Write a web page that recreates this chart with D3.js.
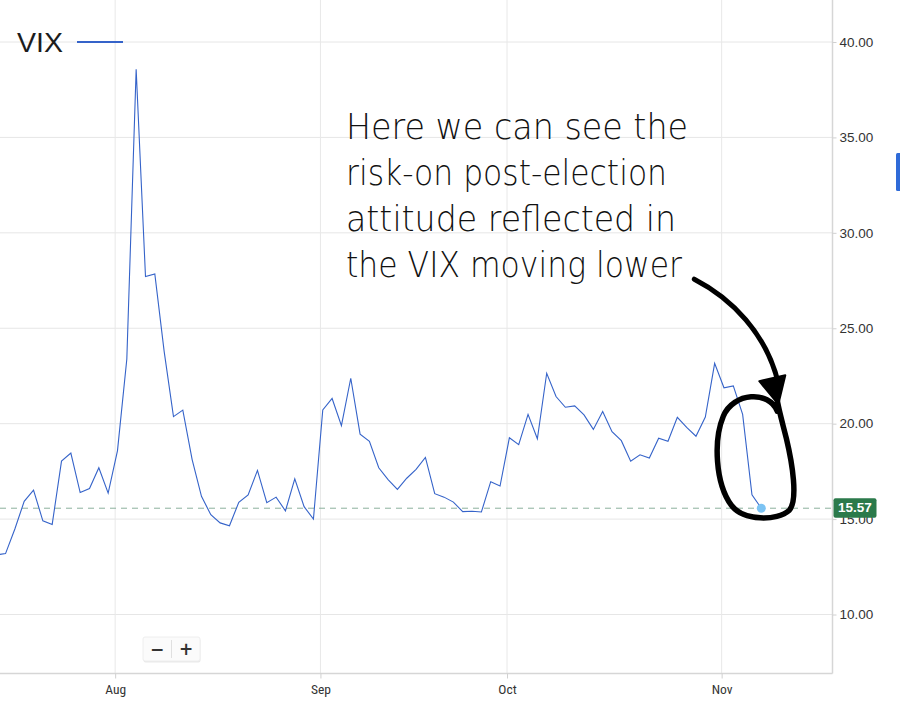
<!DOCTYPE html>
<html>
<head>
<meta charset="utf-8">
<script src="https://cdn.jsdelivr.net/npm/d3@7"></script>
<style>
  html, body { margin: 0; padding: 0; background: #fff; }
  svg { display: block; }
</style>
</head>
<body>
<div id="chart"></div>
<script>
// ---- Data ----
const dates = [
  "2024-07-15","2024-07-16","2024-07-17","2024-07-18","2024-07-19",
  "2024-07-22","2024-07-23","2024-07-24","2024-07-25","2024-07-26",
  "2024-07-29","2024-07-30","2024-07-31",
  "2024-08-01","2024-08-02","2024-08-05","2024-08-06","2024-08-07","2024-08-08","2024-08-09",
  "2024-08-12","2024-08-13","2024-08-14","2024-08-15","2024-08-16",
  "2024-08-19","2024-08-20","2024-08-21","2024-08-22","2024-08-23",
  "2024-08-26","2024-08-27","2024-08-28","2024-08-29","2024-08-30",
  "2024-09-03","2024-09-04","2024-09-05","2024-09-06",
  "2024-09-09","2024-09-10","2024-09-11","2024-09-12","2024-09-13",
  "2024-09-16","2024-09-17","2024-09-18","2024-09-19","2024-09-20",
  "2024-09-23","2024-09-24","2024-09-25","2024-09-26","2024-09-27","2024-09-30",
  "2024-10-01","2024-10-02","2024-10-03","2024-10-04",
  "2024-10-07","2024-10-08","2024-10-09","2024-10-10","2024-10-11",
  "2024-10-14","2024-10-15","2024-10-16","2024-10-17","2024-10-18",
  "2024-10-21","2024-10-22","2024-10-23","2024-10-24","2024-10-25",
  "2024-10-28","2024-10-29","2024-10-30","2024-10-31",
  "2024-11-01","2024-11-04","2024-11-05","2024-11-06","2024-11-07"
];
const vix = [
  13.12,13.19,14.48,15.93,16.52,
  14.91,14.72,18.04,18.46,16.39,
  16.60,17.69,16.36,
  18.59,23.39,38.57,27.71,27.85,23.79,20.37,
  20.71,18.12,16.19,15.23,14.80,
  14.65,15.88,16.27,17.55,15.86,
  16.15,15.43,17.11,15.65,15.00,
  20.72,21.32,19.90,22.38,
  19.45,19.08,17.69,17.07,16.56,
  17.14,17.61,18.23,16.33,16.15,
  15.89,15.39,15.41,15.37,16.96,16.73,
  19.26,18.90,20.49,19.21,
  22.64,21.42,20.86,20.93,20.46,
  19.70,20.64,19.58,19.11,18.03,
  18.37,18.20,19.24,19.08,20.33,
  19.80,19.34,20.35,23.16,
  21.88,21.98,20.49,16.27,15.57
];
const yTicks = [10, 15, 20, 25, 30, 35, 40];
const monthLabels = ["Aug", "Sep", "Oct", "Nov"];
const lastValue = 15.57;
const seriesName = "VIX";
const noteLines = [
  "Here we can see the",
  "risk-on post-election",
  "attitude reflected in",
  "the VIX moving lower"
];

// ---- Layout ----
const W = 900, H = 711;
const plotR = 832, plotB = 673;
const lineColor = "#3563c9";

const svg = d3.select("#chart").append("svg")
  .attr("width", W).attr("height", H)
  .attr("viewBox", `0 0 ${W} ${H}`);

const x = d3.scaleLinear().domain([0, dates.length - 1]).range([-3.8, 761.3]);
const y = d3.scaleLinear().domain([10, 40]).range([614.5, 42]);

// month tick positions: just before first trading day of each month
const monthStarts = monthLabels.map((m, k) => {
  const mm = String(8 + k).padStart(2, "0");
  const idx = dates.findIndex(d => d.slice(5, 7) === mm);
  return idx - 0.25;
});

// Grid
const grid = svg.append("g");
grid.selectAll("line.h").data(yTicks).join("line")
  .attr("x1", 0).attr("x2", plotR)
  .attr("y1", d => y(d)).attr("y2", d => y(d))
  .attr("stroke", "#e6e6e6").attr("stroke-width", 1);
grid.selectAll("line.v").data(monthStarts).join("line")
  .attr("x1", d => x(d)).attr("x2", d => x(d))
  .attr("y1", 0).attr("y2", plotB)
  .attr("stroke", "#e8e8e8").attr("stroke-width", 1);

// Axis frame lines
svg.append("line").attr("x1", plotR + 0.5).attr("x2", plotR + 0.5)
  .attr("y1", 0).attr("y2", plotB + 0.5)
  .attr("stroke", "#d6d6d6").attr("stroke-width", 1.5);
svg.append("line").attr("x1", 0).attr("x2", plotR + 0.5)
  .attr("y1", plotB + 0.5).attr("y2", plotB + 0.5)
  .attr("stroke", "#d6d6d6").attr("stroke-width", 1.5);

// Right axis (D3 axis); the 15.00 label sits under the last-value badge as in the reference
const yAxis = d3.axisRight(y).tickValues(yTicks).tickSize(4).tickPadding(3)
  .tickFormat(d3.format(".2f"));
const yg = svg.append("g").attr("transform", `translate(${plotR + 0.5},0)`).call(yAxis);
yg.select(".domain").remove();
yg.selectAll(".tick line").attr("stroke", "#d0d0d0");
yg.selectAll(".tick text")
  .attr("fill", "#333").attr("font-size", 13.5)
  .attr("font-family", "'Liberation Sans', Arial, Helvetica, sans-serif");

// Bottom axis (D3 axis)
const xAxis = d3.axisBottom(x).tickValues(monthStarts).tickSize(5).tickPadding(6)
  .tickFormat((d, i) => monthLabels[i]);
const xg = svg.append("g").attr("transform", `translate(0,${plotB + 0.5})`).call(xAxis);
xg.select(".domain").remove();
xg.selectAll(".tick line").attr("stroke", "#d0d0d0");
xg.selectAll(".tick text")
  .attr("fill", "#333").attr("font-size", 13.5)
  .attr("font-family", "'Liberation Sans Narrow', 'Roboto Condensed', Roboto, sans-serif");

// Clip
svg.append("clipPath").attr("id", "plotclip")
  .append("rect").attr("x", 0).attr("y", 0).attr("width", plotR).attr("height", plotB);

// Last-value dashed line
svg.append("line")
  .attr("x1", 0).attr("x2", plotR)
  .attr("y1", y(lastValue)).attr("y2", y(lastValue))
  .attr("stroke", "#8bb09c").attr("stroke-width", 1)
  .attr("stroke-dasharray", "6,5");

// Line
const line = d3.line().x((d, i) => x(i)).y(d => y(d));
svg.append("path")
  .datum(vix)
  .attr("clip-path", "url(#plotclip)")
  .attr("d", line)
  .attr("fill", "none")
  .attr("stroke", lineColor)
  .attr("stroke-width", 1.1)
  .attr("stroke-linejoin", "miter");

// Last point dot
const li = vix.length - 1;
svg.append("circle")
  .attr("cx", x(li)).attr("cy", y(vix[li])).attr("r", 4.5)
  .attr("fill", "#7cc3f3");

// Last value badge
const by = y(lastValue);
svg.append("rect")
  .attr("x", plotR + 1.5).attr("y", by - 10).attr("width", 43).attr("height", 19.5)
  .attr("rx", 2).attr("fill", "#2b7a4b");
svg.append("text")
  .attr("x", plotR + 23).attr("y", by + 0.5)
  .attr("text-anchor", "middle").attr("dominant-baseline", "middle")
  .attr("fill", "#fff").attr("font-size", 13.5).attr("font-weight", "bold")
  .attr("font-family", "'Liberation Sans', Arial, sans-serif")
  .text(lastValue.toFixed(2));

// Legend
svg.append("text")
  .attr("x", 17).attr("y", 52)
  .attr("font-size", 28.5).attr("fill", "#1c1c1c")
  .attr("font-family", "'Liberation Sans', Arial, Helvetica, sans-serif")
  .attr("font-weight", 300)
  .text(seriesName);
svg.append("line")
  .attr("x1", 77).attr("x2", 123).attr("y1", 42).attr("y2", 42)
  .attr("stroke", lineColor).attr("stroke-width", 2);

// Zoom buttons
const zb = svg.append("g").attr("transform", "translate(143,637)");
zb.append("rect").attr("x", 0.5).attr("y", 1.5).attr("width", 57).attr("height", 24)
  .attr("rx", 2).attr("fill", "#e9e9e9");
zb.append("rect").attr("x", 0).attr("y", 0).attr("width", 57).attr("height", 24)
  .attr("rx", 2).attr("fill", "#fbfbfb").attr("stroke", "#eeeeee");
zb.append("line").attr("x1", 28.5).attr("x2", 28.5).attr("y1", 3).attr("y2", 21)
  .attr("stroke", "#e0e0e0");
zb.append("text").attr("x", 14).attr("y", 13).attr("text-anchor", "middle")
  .attr("dominant-baseline", "middle").attr("font-size", 17).attr("font-weight", "bold")
  .attr("fill", "#333").attr("font-family", "'DejaVu Sans', sans-serif").text("−");
zb.append("text").attr("x", 43).attr("y", 13).attr("text-anchor", "middle")
  .attr("dominant-baseline", "middle").attr("font-size", 17).attr("font-weight", "bold")
  .attr("fill", "#333").attr("font-family", "'DejaVu Sans', sans-serif").text("+");

// Right-edge blue marker
svg.append("rect").attr("x", 896).attr("y", 153).attr("width", 5).attr("height", 38)
  .attr("rx", 1.5).attr("fill", "#2f6bd8");

// Annotation text
const noteWidths = [342, 321, 330, 336];
svg.append("g").selectAll("text").data(noteLines).join("text")
  .attr("x", 346)
  .attr("y", (d, i) => 139 + i * 46)
  .attr("font-size", 35)
  .attr("font-weight", 300)
  .attr("font-family", "'DejaVu Sans', sans-serif")
  .attr("fill", "#111")
  .attr("textLength", (d, i) => noteWidths[i])
  .attr("lengthAdjust", "spacingAndGlyphs")
  .text(d => d);

// Hand-drawn arrow and loop, placed relative to the last point
const px = x(li), py = y(vix[li]);
const ann = svg.append("g").attr("fill", "none").attr("stroke", "#000")
  .attr("stroke-linecap", "round").attr("stroke-linejoin", "round");
ann.append("path")
  .attr("d", `M ${px - 67},${py - 229} C ${px - 30},${py - 210} ${px + 5},${py - 175} ${px + 17},${py - 125}`)
  .attr("stroke-width", 5);
ann.append("path")
  .attr("d", `M ${px - 2},${py - 127} L ${px + 24},${py - 133} L ${px + 17},${py - 104} Z`)
  .attr("fill", "#000").attr("stroke-width", 2);
ann.append("path")
  .attr("d", `M ${px + 16},${py - 97}
              C ${px + 8},${py - 118} ${px - 28},${py - 116} ${px - 38},${py - 92}
              C ${px - 48},${py - 68} ${px - 46},${py - 25} ${px - 30},${py - 3}
              C ${px - 18},${py + 13} ${px + 16},${py + 13} ${px + 28},${py + 2}
              C ${px + 37},${py - 8} ${px + 31},${py - 45} ${px + 25},${py - 70}
              C ${px + 21},${py - 86} ${px + 17},${py - 100} ${px + 16},${py - 108}`)
  .attr("stroke-width", 5.5);
</script>
</body>
</html>
